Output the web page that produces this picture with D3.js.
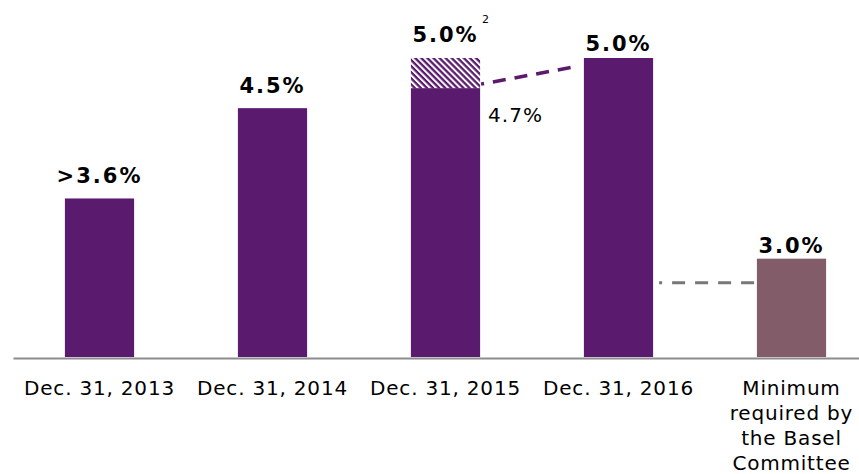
<!DOCTYPE html>
<html>
<head>
<meta charset="utf-8">
<script src="https://cdn.jsdelivr.net/npm/d3@7/dist/d3.min.js"></script>
<style>
  html, body { margin: 0; padding: 0; background: #ffffff; }
  svg { display: block; font-family: "DejaVu Sans", Verdana, sans-serif; }
</style>
</head>
<body>
<svg id="chart" width="859" height="474"></svg>
<script>
// Leverage ratio by reporting date (percent)
const categories = ["Dec. 31, 2013", "Dec. 31, 2014", "Dec. 31, 2015", "Dec. 31, 2016", "Minimum required by the Basel Committee"];
const categoryLines = [["Dec. 31, 2013"], ["Dec. 31, 2014"], ["Dec. 31, 2015"], ["Dec. 31, 2016"], ["Minimum", "required by", "the Basel", "Committee"]];
const baseValues = [3.6, 4.5, 4.7, 5.0, 3.0];
const hatchedValues = [0, 0, 0.3, 0, 0];
const valueLabels = [">3.6%", "4.5%", "5.0%", "5.0%", "3.0%"];
const innerLabel = { category: "Dec. 31, 2015", text: "4.7%", value: 4.7 };
const footnoteMark = "2";
// Dashed guides: trend from the 2015 reported value towards 2016, and the minimum guide
const trendValues = [4.7, 4.92];
const minimumGuideValue = 2.76;

const svg = d3.select("#chart");
const fontFamily = "'DejaVu Sans', Verdana, sans-serif";

const colors = { main: "#5a1a6e", minimum: "#825c69", axis: "#8c8c8c", guide: "#777777", text: "#000000" };

const x = d3.scaleBand()
  .domain(categories)
  .range([13, 878])
  .paddingInner(0.6)
  .paddingOuter(0.3);

const y = d3.scaleLinear()
  .domain([2.02, 5.0])
  .range([357, 58]);

// Diagonal hatch for the portion above the reported 4.7%
const defs = svg.append("defs");
const pat = defs.append("pattern")
  .attr("id", "hatch")
  .attr("patternUnits", "userSpaceOnUse")
  .attr("width", 4.3)
  .attr("height", 4.3)
  .attr("patternTransform", "rotate(45)");
pat.append("rect").attr("width", 4.3).attr("height", 4.3).attr("fill", "#ffffff");
pat.append("rect").attr("width", 4.3).attr("height", 2.3).attr("fill", colors.main);

const data = categories.map((c, i) => ({
  cat: c,
  base: baseValues[i],
  extra: hatchedValues[i],
  label: valueLabels[i],
  lines: categoryLines[i],
  minimum: i === categories.length - 1
}));

// Bars
svg.append("g").selectAll("rect")
  .data(data)
  .join("rect")
  .attr("x", d => x(d.cat))
  .attr("width", x.bandwidth())
  .attr("y", d => y(d.base))
  .attr("height", d => y(y.domain()[0]) - y(d.base))
  .attr("fill", d => d.minimum ? colors.minimum : colors.main);

svg.append("g").selectAll("rect")
  .data(data.filter(d => d.extra > 0))
  .join("rect")
  .attr("x", d => x(d.cat))
  .attr("width", x.bandwidth())
  .attr("y", d => y(d.base + d.extra))
  .attr("height", d => y(d.base) - y(d.base + d.extra))
  .attr("fill", "url(#hatch)");

// Axis
const axis = d3.axisBottom(x).tickSize(0).tickSizeOuter(0).tickFormat("");
const axisG = svg.append("g")
  .attr("transform", `translate(0,${y(y.domain()[0]) + 1})`)
  .call(axis)
  .attr("font-family", fontFamily)
  .attr("font-size", null);
axisG.select(".domain").attr("stroke", colors.axis).attr("stroke-width", 2);

axisG.selectAll(".tick").each(function(c, i) {
  const t = d3.select(this).append("text")
    .attr("fill", colors.text)
    .attr("text-anchor", "middle")
    .style("font-family", fontFamily)
    .style("font-size", "20px")
    .style("letter-spacing", "0.8px")
    .attr("y", 37);
  categoryLines[i].forEach((line, k) => {
    t.append("tspan").attr("x", 0).attr("dy", k === 0 ? 0 : 25).text(line);
  });
});

// Value labels above the bars
const labelLift = [15, 15, 16, 7, 6];
svg.append("g").selectAll("text")
  .data(data)
  .join("text")
  .attr("x", d => x(d.cat) + x.bandwidth() / 2)
  .attr("y", (d, i) => y(d.base + d.extra) - labelLift[i])
  .attr("text-anchor", "middle")
  .attr("fill", colors.text)
  .style("font-size", "21px")
  .style("font-weight", "bold")
  .style("letter-spacing", "2px")
  .text(d => d.label);

// Footnote marker next to the 2015 label
svg.append("text")
  .attr("x", x("Dec. 31, 2015") + x.bandwidth() + 2)
  .attr("y", 23)
  .attr("fill", colors.text)
  .style("font-size", "11px")
  .text(footnoteMark);

// Reported value beside the 2015 bar
svg.append("text")
  .attr("x", x(innerLabel.category) + x.bandwidth() + 8)
  .attr("y", y(innerLabel.value) + 34)
  .attr("fill", colors.text)
  .style("font-size", "20px")
  .style("letter-spacing", "1px")
  .text(innerLabel.text);

// Dashed trend between 2015 and 2016
svg.append("line")
  .attr("x1", x("Dec. 31, 2015") + x.bandwidth() + 1)
  .attr("y1", y(trendValues[0]) - 4)
  .attr("x2", x("Dec. 31, 2016") - 5)
  .attr("y2", y(trendValues[1]))
  .attr("stroke", colors.main)
  .attr("stroke-width", 3.5)
  .attr("stroke-dasharray", "13,9")
  .attr("stroke-dashoffset", 10);

// Dashed guide leading to the minimum bar
const minCat = categories[categories.length - 1];
svg.append("line")
  .attr("x1", x("Dec. 31, 2016") + x.bandwidth() + 6)
  .attr("x2", x(minCat))
  .attr("y1", y(minimumGuideValue))
  .attr("y2", y(minimumGuideValue))
  .attr("stroke", colors.guide)
  .attr("stroke-width", 3)
  .attr("stroke-dasharray", "13,10")
  .attr("stroke-dashoffset", 10);
</script>
</body>
</html>
